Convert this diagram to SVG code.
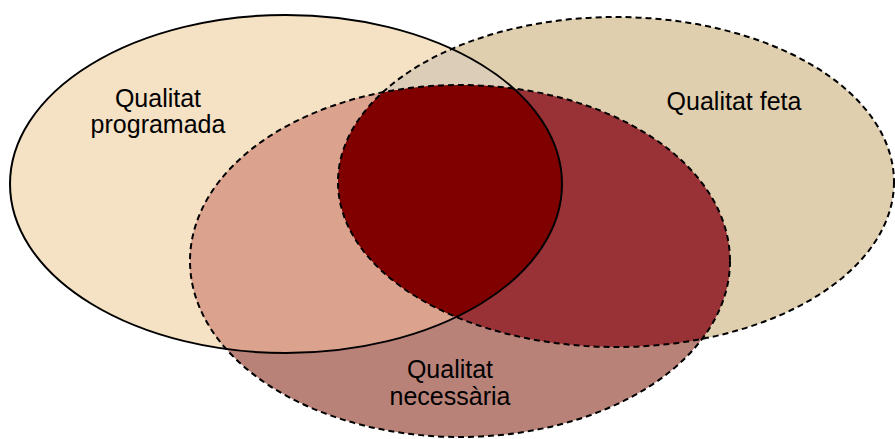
<svg xmlns="http://www.w3.org/2000/svg" width="895" height="439" viewBox="0 0 895 439">
<style>
.lbl{font-family:"Liberation Sans",Arial,sans-serif;font-size:25px;fill:#000;text-anchor:middle}
.solid{fill:none;stroke:#000;stroke-width:2}
.dash{fill:none;stroke:#000;stroke-width:2;stroke-dasharray:6 4}
</style>
<defs>
<clipPath id="cA"><ellipse cx="286" cy="184" rx="276" ry="169"/></clipPath>
<clipPath id="cB"><ellipse cx="616" cy="182" rx="278" ry="165"/></clipPath>
<clipPath id="cC"><ellipse cx="460" cy="261" rx="270" ry="176"/></clipPath>
</defs>
<rect width="895" height="439" fill="#fff"/>
<g id="regions">
<ellipse cx="286" cy="184" rx="276" ry="169" fill="#f5e1c3"/>
<ellipse cx="616" cy="182" rx="278" ry="165" fill="#e0cfae"/>
<ellipse cx="460" cy="261" rx="270" ry="176" fill="#b98278"/>
<g clip-path="url(#cA)"><ellipse cx="616" cy="182" rx="278" ry="165" fill="#dccdb9"/></g>
<g clip-path="url(#cA)"><ellipse cx="460" cy="261" rx="270" ry="176" fill="#dba28d"/></g>
<g clip-path="url(#cB)"><ellipse cx="460" cy="261" rx="270" ry="176" fill="#983236"/></g>
<g clip-path="url(#cA)"><g clip-path="url(#cB)"><ellipse cx="460" cy="261" rx="270" ry="176" fill="#800000"/></g></g>
</g>
<g id="programada">
<ellipse class="solid" cx="286" cy="184" rx="276" ry="169"/>
<text class="lbl" x="158" y="107">Qualitat</text>
<text class="lbl" x="158" y="133">programada</text>
</g>
<g id="feta">
<ellipse class="dash" cx="616" cy="182" rx="278" ry="165"/>
<text class="lbl" x="734" y="110">Qualitat feta</text>
</g>
<g id="necessaria">
<ellipse class="dash" cx="460" cy="261" rx="270" ry="176"/>
<text class="lbl" x="450" y="378">Qualitat</text>
<text class="lbl" x="450" y="405">necessària</text>
</g>
<g id="connectors"/>
</svg>
